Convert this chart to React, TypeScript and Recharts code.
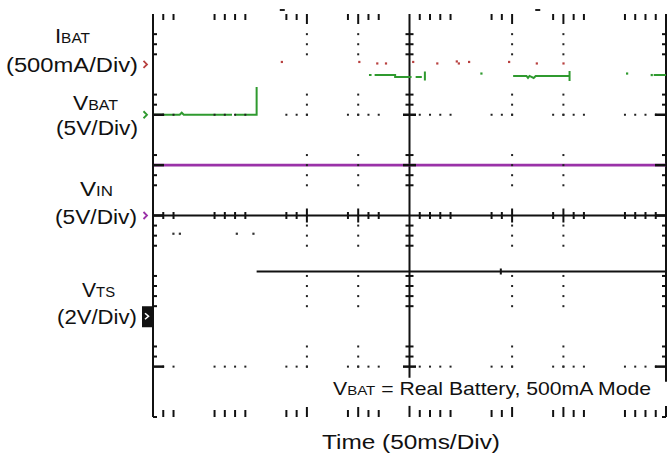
import React from 'react';
import { ComposedChart, Line, Scatter, XAxis, YAxis, ReferenceLine } from 'recharts';

// ---------- data (time in ms, amplitude in divisions) ----------
const xMinorTicks = [10, 20, 60, 70, 80, 90, 130, 140, 150, 190, 200, 210, 220, 260, 270, 280, 290, 330, 340, 350, 390, 400, 410, 420, 460, 470, 480, 490];
const yMinorTicks = [3.6, 3.4, 3.2, 2.4, 2.2, 2.0, 1.2, 1.0, 0.8, 0.6, -0.2, -0.4, -0.6, -1.2, -1.4, -1.6, -1.8, -2.6, -2.8, -3.0];
const xGridLines = [150, 200, 350, 400];
const yGridLines = [2, -3];
const yLongTicks = [2, 1, 0, -3];

const vbatTrace = [
  { t: 0, v: 2.0 }, { t: 26, v: 2.0 }, { t: 28, v: 2.04 }, { t: 30, v: 2.0 }, { t: 77, v: 2.0 }, { t: 78.5, v: null },
  { t: 80, v: 2.0 }, { t: 101, v: 2.0 }, { t: 101, v: 2.55 }, { t: 150, v: null },
  { t: 210.5, v: 2.79 }, { t: 213, v: 2.79 }, { t: 214.5, v: null }, { t: 216, v: 2.79 }, { t: 236, v: 2.79 },
  { t: 236, v: 2.75 }, { t: 252, v: 2.75 }, { t: 254, v: null }, { t: 256, v: 2.75 }, { t: 262, v: 2.75 },
  { t: 263.5, v: null }, { t: 265, v: 2.86 }, { t: 265, v: 2.68 }, { t: 300, v: null },
  { t: 351, v: 2.77 }, { t: 364, v: 2.77 }, { t: 365.5, v: 2.73 }, { t: 367, v: 2.77 }, { t: 371, v: 2.73 },
  { t: 373, v: 2.77 }, { t: 406, v: 2.77 }, { t: 406, v: 2.87 }, { t: 406, v: 2.67 }, { t: 450, v: null },
  { t: 488, v: 2.79 }, { t: 500, v: 2.79 },
];
const vbatDots = [{ t: 320, v: 2.82 }, { t: 462, v: 2.82 }, { t: 486, v: 2.79 }];
const ibatDots = [
  { t: 125.5, v: 3.05 }, { t: 201, v: 3.05 }, { t: 218.5, v: 3.02 }, { t: 227, v: 3.02 }, { t: 253.5, v: 3.05 },
  { t: 277, v: 3.02 }, { t: 296, v: 3.06 }, { t: 298, v: 3.02 }, { t: 308, v: 3.05 }, { t: 347, v: 3.05 },
  { t: 374, v: 3.02 }, { t: 400, v: 3.02 },
];
const vinTrace = [{ t: 0, v: 1.0 }, { t: 500, v: 1.0 }];
const vtsTrace = [
  { t: 101, v: -1.11 }, { t: 339, v: -1.11 }, { t: 339, v: -1.05 }, { t: 339, v: -1.17 }, { t: 339, v: -1.11 }, { t: 500, v: -1.11 },
];
const vtsDots = [{ t: 19.8, v: -0.36 }, { t: 26.1, v: -0.36 }, { t: 81.6, v: -0.36 }, { t: 97.8, v: -0.36 }];
const topMarkTimes = [126, 375];

const channelNames = ['I', 'V', 'V', 'V'];
const channelSubs = ['BAT', 'BAT', 'IN', 'TS'];
const channelScales = ['(500mA/Div)', '(5V/Div)', '(5V/Div)', '(2V/Div)'];
const channelMarkers = [3, 2, 0, -2];

const xAxisTitle = 'Time (50ms/Div)';
const noteMain = 'V';
const noteSub = 'BAT';
const noteRest = ' = Real Battery, 500mA Mode';

// ---------- derived decoration data ----------
const topTicks = xMinorTicks.map((t) => ({ t, v: 4, long: xGridLines.includes(t) }));
const bottomTicks = xMinorTicks.map((t) => ({ t, v: -4, long: xGridLines.includes(t) }));
const borderY = [...yMinorTicks, 0, -4];
const leftTicks = borderY.map((v) => ({ t: 0, v, long: yLongTicks.includes(v) }));
const rightTicks = borderY.map((v) => ({ t: 500, v, long: yLongTicks.includes(v) }));
const centerHTicks = xMinorTicks.map((t) => ({ t, v: 0, long: xGridLines.includes(t) }));
const centerVTicks = yMinorTicks.map((v) => ({ t: 250, v, long: yLongTicks.includes(v) }));
const gridDots = [
  ...xGridLines.flatMap((t) => yMinorTicks.map((v) => ({ t, v }))),
  ...yGridLines.flatMap((v) => xMinorTicks.map((t) => ({ t, v }))),
];
const topMarks = topMarkTimes.map((t) => ({ t, v: 4 }));

// ---------- styles ----------
const FONT = '"Liberation Sans", Arial, Helvetica, sans-serif';
const INK = '#111';
const GREEN = '#2f9a2f';
const MAGENTA = '#9a32a8';
const RED = '#b8403f';
const channelColors = [RED, GREEN, MAGENTA, INK];
const titleDy = [-21, -5, -20, -19];
const scaleDy = [8, 20, 8, 8];
const titleW = [35, 45, 33, 33];
const titleCx = [72.5, 95.5, 96.5, 98.5];
const scaleW = [132, 82, 82, 80];
const scaleRight = [138, 138, 137, 137];

function ChannelTick(props: any) {
  const { y, payload } = props;
  const i = channelMarkers.indexOf(payload.value);
  if (i < 0) return <g />;
  const c = channelColors[i];
  return (
    <g fontFamily={FONT} fill={INK}>
      {i === 3 ? (
        <g>
          <rect x={142} y={y - 10} width={11} height={21} fill={INK} />
          <path d={`M 145 ${y - 3} L 148.5 ${y} L 145 ${y + 3}`} stroke="#fff" strokeWidth={1.6} fill="none" />
        </g>
      ) : (
        <path d={`M 143.5 ${y - 3.5} L 147 ${y} L 143.5 ${y + 3.5}`} stroke={c} strokeWidth={1.8} fill="none" />
      )}
      <text x={titleCx[i] - titleW[i] / 2} y={y + titleDy[i]} fontSize={20} textLength={titleW[i]} lengthAdjust="spacingAndGlyphs">
        {channelNames[i]}
        <tspan fontSize={14}>{channelSubs[i]}</tspan>
      </text>
      <text x={scaleRight[i] - scaleW[i]} y={y + scaleDy[i]} fontSize={20} textLength={scaleW[i]} lengthAdjust="spacingAndGlyphs">
        {channelScales[i]}
      </text>
    </g>
  );
}

function BottomTexts() {
  return (
    <g fontFamily={FONT} fill={INK}>
      <text x={322} y={449} fontSize={20} textLength={178} lengthAdjust="spacingAndGlyphs">{xAxisTitle}</text>
      <text x={333} y={395} fontSize={19} textLength={318} lengthAdjust="spacingAndGlyphs">
        {noteMain}
        <tspan fontSize={13.5}>{noteSub}</tspan>
        {noteRest}
      </text>
    </g>
  );
}

const topTickShape = (p: any) => (
  <line x1={p.cx} x2={p.cx} y1={p.cy} y2={p.cy + (p.payload.long ? 10 : 6)} stroke={INK} strokeWidth={2} />
);
const bottomTickShape = (p: any) => (
  <line x1={p.cx} x2={p.cx} y1={p.cy} y2={p.cy - (p.payload.long ? 10 : 7)} stroke={INK} strokeWidth={2} />
);
const leftTickShape = (p: any) => (
  <line x1={p.cx} x2={p.cx + (p.payload.long ? 11 : 4)} y1={p.cy} y2={p.cy} stroke={INK} strokeWidth={p.payload.long ? 2.5 : 2} />
);
const rightTickShape = (p: any) => (
  <line x1={p.cx} x2={p.cx - (p.payload.long ? 11 : 4)} y1={p.cy} y2={p.cy} stroke={INK} strokeWidth={p.payload.long ? 2.5 : 2} />
);
const crossHShape = (p: any) => {
  const h = p.payload.long ? 7 : 3.5;
  return <line x1={p.cx} x2={p.cx} y1={p.cy - h} y2={p.cy + h} stroke={INK} strokeWidth={2} />;
};
const crossVShape = (p: any) => {
  const h = p.payload.long ? 6.5 : 4;
  return <line x1={p.cx - h} x2={p.cx + h} y1={p.cy} y2={p.cy} stroke={INK} strokeWidth={p.payload.long ? 2.5 : 2} />;
};
const gridDotShape = (p: any) => <rect x={p.cx - 1} y={p.cy - 1} width={2} height={2} fill="#222" />;
const topMarkShape = (p: any) => <rect x={p.cx - 2.5} y={p.cy - 5} width={5} height={2} fill="#222" />;
const dotShape = (color: string) => (p: any) => <rect x={p.cx - 1} y={p.cy - 1} width={2.2} height={2.2} fill={color} />;

export default function App() {
  return (
    <div style={{ position: 'absolute', left: 0, top: 0, width: 667, height: 458, background: '#fff' }}>
      <ComposedChart width={667} height={458} margin={{ top: 14, right: 1, bottom: 0, left: 0 }}>
        <XAxis
          xAxisId={0}
          type="number"
          dataKey="t"
          domain={[0, 500]}
          height={41}
          tick={false}
          tickLine={false}
          axisLine={false}
          label={BottomTexts}
        />
        <YAxis
          yAxisId={0}
          type="number"
          domain={[-4, 4]}
          width={153}
          ticks={channelMarkers}
          interval={0}
          tickLine={false}
          axisLine={{ stroke: INK, strokeWidth: 2 }}
          tick={(p: any) => <ChannelTick {...p} />}
        />
        <ReferenceLine y={0} stroke={INK} strokeWidth={2} />
        <ReferenceLine segment={[{ x: 250, y: 4 }, { x: 250, y: -3.22 }]} stroke={INK} strokeWidth={2} />
        <ReferenceLine segment={[{ x: 250, y: -3.78 }, { x: 250, y: -4 }]} stroke={INK} strokeWidth={2} />
        <ReferenceLine segment={[{ x: 500, y: 4 }, { x: 500, y: -3.3 }]} stroke={INK} strokeWidth={2} />
        <ReferenceLine segment={[{ x: 500, y: -3.78 }, { x: 500, y: -4 }]} stroke={INK} strokeWidth={2} />

        <Scatter data={gridDots} dataKey="v" shape={gridDotShape} isAnimationActive={false} legendType="none" />
        <Scatter data={topTicks} dataKey="v" shape={topTickShape} isAnimationActive={false} legendType="none" />
        <Scatter data={bottomTicks} dataKey="v" shape={bottomTickShape} isAnimationActive={false} legendType="none" />
        <Scatter data={leftTicks} dataKey="v" shape={leftTickShape} isAnimationActive={false} legendType="none" />
        <Scatter data={rightTicks} dataKey="v" shape={rightTickShape} isAnimationActive={false} legendType="none" />
        <Scatter data={centerHTicks} dataKey="v" shape={crossHShape} isAnimationActive={false} legendType="none" />
        <Scatter data={centerVTicks} dataKey="v" shape={crossVShape} isAnimationActive={false} legendType="none" />
        <Scatter data={topMarks} dataKey="v" shape={topMarkShape} isAnimationActive={false} legendType="none" />

        <Line data={vinTrace} dataKey="v" stroke={MAGENTA} strokeWidth={2.6} dot={false} activeDot={false} isAnimationActive={false} />
        <Line data={vtsTrace} dataKey="v" stroke={INK} strokeWidth={2} dot={false} activeDot={false} isAnimationActive={false} />
        <Line data={vbatTrace} dataKey="v" stroke={GREEN} strokeWidth={2} dot={false} activeDot={false} connectNulls={false} isAnimationActive={false} />
        <Scatter data={vbatDots} dataKey="v" shape={dotShape(GREEN)} isAnimationActive={false} legendType="none" />
        <Scatter data={ibatDots} dataKey="v" shape={dotShape(RED)} isAnimationActive={false} legendType="none" />
        <Scatter data={vtsDots} dataKey="v" shape={dotShape('#333')} isAnimationActive={false} legendType="none" />
      </ComposedChart>
    </div>
  );
}
